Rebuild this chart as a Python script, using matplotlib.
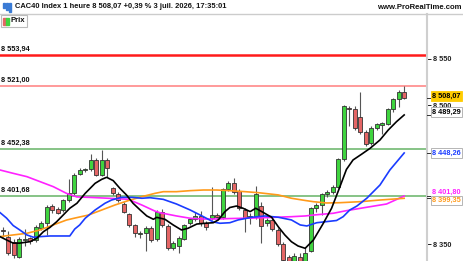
"""CAC40 1h candlestick snapshot (ProRealTime style) with 4 moving averages."""
import matplotlib
matplotlib.use("Agg")
import matplotlib.pyplot as plt
import numpy as np
from matplotlib.patches import Rectangle
from matplotlib.lines import Line2D
from matplotlib.ticker import FuncFormatter

plt.rcParams['font.family'] = ['Liberation Sans', 'DejaVu Sans']

# --- Data ---
opens = [8365, 8358, 8352.5, 8336.5, 8354, 8356.5, 8354.5, 8367, 8372.5, 8391,
         8388, 8387, 8397, 8405, 8426, 8430, 8431, 8441, 8424.5, 8441,
         8410, 8404, 8393, 8382.5, 8370.5, 8361, 8362, 8367, 8355, 8385,
         8369.5, 8346, 8348, 8355.5, 8373, 8377, 8380, 8373, 8378, 8381.5,
         8379, 8409, 8416, 8407.5, 8387, 8379, 8379, 8391, 8372.5, 8376,
         8365, 8350, 8336, 8331, 8336, 8330, 8343, 8388.5, 8392, 8403.5,
         8406, 8412, 8442, 8497, 8496, 8487, 8471, 8459, 8475, 8478,
         8480, 8495.5, 8506, 8514.5]
highs = [8368, 8364, 8355, 8358, 8366, 8358, 8370.5, 8375, 8392, 8393,
         8390, 8399, 8420, 8427, 8432, 8432, 8447, 8443, 8451.5, 8443,
         8412, 8406, 8395, 8384, 8372, 8364, 8369, 8369, 8387, 8388,
         8372, 8353, 8359, 8372, 8378, 8385, 8386, 8375, 8412, 8383,
         8411, 8418, 8421, 8409, 8389, 8383, 8413, 8395, 8378, 8378,
         8367, 8352, 8338, 8340, 8340, 8347, 8390, 8394, 8405, 8408,
         8414, 8443, 8500, 8499, 8499, 8514, 8473, 8477, 8481, 8482,
         8497, 8508, 8516, 8521]
lows = [8358, 8338, 8334.5, 8335, 8348, 8350, 8352, 8365, 8360, 8384,
        8382, 8385, 8395, 8403, 8424, 8428, 8429, 8423, 8423, 8422,
        8403, 8395, 8383, 8368, 8358, 8357, 8343, 8352, 8353, 8368,
        8344, 8344, 8340, 8354, 8371, 8375, 8370, 8365, 8376, 8377,
        8377, 8407, 8404, 8387, 8363, 8372, 8377, 8351, 8370, 8364,
        8348, 8330, 8322, 8328, 8328, 8328, 8341, 8385, 8381, 8401,
        8404, 8410, 8440, 8477, 8473, 8469, 8456, 8457, 8473, 8469,
        8478, 8492, 8498, 8506]
closes = [8364, 8340, 8338, 8355, 8355, 8353, 8368, 8373, 8390, 8387,
          8384, 8397.5, 8405, 8425, 8430, 8430.5, 8441, 8424.5, 8441, 8432,
          8405, 8397.5, 8385, 8370.5, 8361.5, 8361.5, 8367, 8354.5, 8385, 8371,
          8346, 8351, 8357, 8370.5, 8376.5, 8380, 8372.5, 8368, 8381.5, 8379,
          8409, 8416, 8406.5, 8389, 8378, 8380.5, 8404, 8369.5, 8376, 8366,
          8350, 8333, 8326, 8337, 8332, 8340, 8388.5, 8392, 8403.5, 8406.5,
          8412, 8441.5, 8499, 8495.5, 8475, 8471, 8458, 8475, 8479, 8480.5,
          8495.5, 8506, 8514.5, 8508.07]

# moving averages, sampled along the curves (candle index, price)
ma_black_x = [-0.5, 0.7, 1.9, 3.1, 5.0, 6.2, 7.4, 8.6, 9.8, 11.0, 12.2, 13.5, 15.0, 16.8,
              18.0, 18.9, 20.1, 21.3, 22.5, 23.7, 25.0, 26.2, 27.4, 28.0, 29.5, 31.0,
              32.5, 33.7, 35.3, 36.8, 38.3, 39.2, 40.4, 41.3, 42.5, 43.7, 45.0, 46.0,
              47.1, 48.9, 50.1, 51.3, 52.5, 53.7, 55.0, 56.5, 58.3, 59.8, 61.2, 62.5,
              63.7, 65.3, 66.8, 68.6, 70.1, 71.6, 73.0]
ma_black_y = [8358, 8354.4, 8351, 8351, 8352.6, 8356.2, 8363.3, 8368, 8374, 8381.3, 8388.6,
              8394, 8404.7, 8415.5, 8419.8, 8422, 8418.4, 8410.2, 8403, 8394, 8386.7, 8380.3,
              8376.7, 8378.8, 8376.7, 8370.6, 8365.2, 8367, 8371.6, 8372.4, 8373, 8376,
              8384.9, 8389.4, 8391, 8388.6, 8385, 8388.6, 8385, 8378.9, 8368.7, 8359.8,
              8352.5, 8347.9, 8345.4, 8354.4, 8372.4, 8388.6, 8410, 8430.5, 8440.7, 8447.1,
              8453.3, 8462.3, 8473, 8482, 8489.29]
ma_blue_x = [-0.5, 0.7, 1.9, 3.1, 4.4, 5.6, 6.8, 8.6, 10.4, 12.2, 13.1, 14.0, 15.0, 16.8,
             18.6, 19.8, 21.6, 23.5, 25.3, 26.8, 29.2, 31.6, 34.1, 36.5, 38.3, 39.5, 41.3,
             42.8, 45.3, 47.7, 50.1, 52.5, 54.1, 55.3, 57.1, 60.7, 61.9, 63.1, 64.4, 66.2,
             68.6, 70.4, 73.0]
ma_blue_y = [8384, 8378, 8370, 8365.2, 8359.8, 8357.3, 8358, 8358.7, 8358.7, 8358.7, 8366.2,
             8370.6, 8377.8, 8386.7, 8394, 8397.5, 8400.4, 8400.4, 8399.4, 8400, 8398.2,
             8393.2, 8386.7, 8379.5, 8373.8, 8372.4, 8373, 8376, 8378.9, 8380.3, 8378.9,
             8376, 8370.6, 8369.5, 8373, 8375.4, 8379.5, 8386.7, 8391, 8399.4, 8413.7,
             8429.9, 8448.26]
ma_orange_x = [-0.5, 1.9, 4.4, 6.8, 9.2, 11.6, 13.1, 15.6, 18.0, 20.4, 22.8, 25.3, 27.7,
               29.2, 31.6, 34.1, 36.5, 38.9, 41.3, 44.1, 46.5, 50.1, 52.5, 55.0, 56.5,
               58.9, 61.3, 65.0, 68.6, 73.0]
ma_orange_y = [8358, 8359.8, 8361.6, 8365.2, 8370.6, 8375.9, 8378, 8381.3, 8386.7, 8392.1,
               8396.8, 8401.1, 8404.7, 8406.5, 8406.5, 8407.6, 8408.3, 8408.3, 8407.6,
               8406.5, 8405.4, 8403, 8399.4, 8397, 8395.7, 8394.3, 8394.6, 8395.7, 8397.5,
               8399.35]
ma_magenta_x = [-0.5, 1.9, 4.4, 6.8, 9.2, 11.6, 13.5, 15.6, 19.2, 22.8, 25.3, 27.7, 28.6,
                31.6, 34.1, 36.5, 38.9, 41.3, 45.3, 47.7, 50.1, 52.5, 55.0, 56.5, 60.1,
                62.5, 66.2, 69.8, 73.0]
ma_magenta_y = [8429.9, 8426.3, 8422.7, 8417.3, 8411.9, 8404.7, 8400.8, 8400.4, 8399.4,
                8398.3, 8392.1, 8385.5, 8383.8, 8380.3, 8377.8, 8377, 8377, 8377.5, 8378,
                8378.5, 8379, 8379.5, 8380.3, 8381.3, 8383.2, 8386, 8389.7, 8393.2, 8401.8]

levels = [8553.94, 8521.00, 8452.38, 8401.68]
level_labels = ["8 553,94", "8 521,00", "8 452,38", "8 401,68"]
level_colors = ["#ff1a1a", "#ff7f7f", "#66b366", "#66b366"]
level_widths = [1.8, 1.1, 1.1, 1.1]

# right-axis ticks left visible (8 400 / 8 450 are covered by the MA tags)
axis_ticks = [8350, 8500, 8550]

title = "CAC40 Index 1 heure 8 508,07 +0,39 % 3 juil. 2026, 17:35:01"

W, H = 464, 261
fig = plt.figure(figsize=(W / 100, H / 100), dpi=100)
ax = fig.add_axes([0, 0, 427 / W, (H - 14) / H])
ax.set_xlim(-0.49, 77.15)
ax.set_ylim(8331.7, 8598.2)

# support / resistance lines
for lv, lab, col, lw in zip(levels, level_labels, level_colors, level_widths):
    ax.axhline(lv, color=col, lw=lw, zorder=2)
    ax.annotate(lab, xy=(0, lv), xycoords=ax.get_yaxis_transform(),
                xytext=(1, 2), textcoords="offset pixels", ha="left", va="bottom",
                fontsize=5.3, fontweight="bold", color="#111111")

# candles
o = np.array(opens); c = np.array(closes)
idx = np.arange(len(o))
up = c >= o
body_col = np.where(up, "#3fd43f", "#e46565")
ax.vlines(idx, lows, highs, color="#555555", lw=0.8, zorder=3)
ax.bar(idx, np.maximum(np.abs(c - o), 0.4), bottom=np.minimum(o, c), width=0.72,
       color=body_col, edgecolor="#333333", linewidth=0.6, zorder=4)

# moving averages
ax.plot(ma_magenta_x, ma_magenta_y, color="#ff22ff", lw=1.2, zorder=5)
ax.plot(ma_orange_x, ma_orange_y, color="#ff9a1a", lw=1.2, zorder=5)
ax.plot(ma_blue_x, ma_blue_y, color="#1a3cff", lw=1.2, zorder=5)
ax.plot(ma_black_x, ma_black_y, color="#000000", lw=1.2, zorder=6)

# right price axis
for s in ["top", "left", "bottom"]:
    ax.spines[s].set_visible(False)
ax.spines["right"].set_color("#cfcfcf")
ax.spines["right"].set_linewidth(1.5)
ax.set_xticks([])
ax.yaxis.tick_right()
ax.set_yticks(axis_ticks)
ax.yaxis.set_major_formatter(FuncFormatter(lambda v, p: f"{int(v):,}".replace(",", " ")))
ax.tick_params(axis="y", length=3, width=0.7, pad=1.5, labelsize=5.3, colors="#222222")
for t in ax.get_yticklabels():
    t.set_fontweight("bold")

tags = [  # price, text, text colour, face, edge, vertical shift px
    (8508.07, "8 508,07", "#000000", "#ffcc00", "#ffcc00", 1.5),
    (8489.29, "8 489,29", "#000000", "#ffffff", "#aaaaaa", 3),
    (8448.26, "8 448,26", "#1a3cff", "#ffffff", "#aaaaaa", 0),
    (8401.80, "8 401,80", "#ff22ff", "#ffffff", "#ffffff", 4),
    (8399.35, "8 399,35", "#ff9a1a", "#ffffff", "#aaaaaa", -2.5),
]
for price, txt, tc, fc, ec, dy in tags:
    ax.annotate(txt, xy=(1, price), xycoords=ax.get_yaxis_transform(),
                xytext=(5, dy), textcoords="offset pixels", ha="left", va="center",
                fontsize=5.3, fontweight="bold", color=tc, annotation_clip=False,
                bbox=dict(boxstyle="square,pad=0.15", fc=fc, ec=ec, lw=0.6), zorder=20)
    ax.plot([1.0, 1.0 + 3 / 427], [price, price], transform=ax.get_yaxis_transform(),
            clip_on=False, color="#333333", lw=0.7, zorder=19)

# header
fig.add_artist(Line2D([0, 1], [1 - 13.5 / H] * 2, transform=fig.transFigure,
                      color="#cccccc", lw=1))
fig.text(15 / W, 1 - 7 / H, title, ha="left", va="center", fontsize=5.4,
         fontweight="bold", color="#111111")
fig.text(462 / W, 1 - 7.5 / H, "www.ProRealTime.com", ha="right", va="center",
         fontsize=5.6, fontweight="bold", color="#111111")
for bx, bh in [(3, 5), (6, 7), (9, 9)]:
    fig.add_artist(Rectangle((bx / W, 1 - (3 + bh) / H), 1.6 / W, bh / H,
                             transform=fig.transFigure, color="#3a7bd5"))

# "Prix" legend box
fig.add_artist(Rectangle((1 / W, 1 - 27 / H), 26 / W, 12 / H, transform=fig.transFigure,
                         fc="white", ec="#bbbbbb", lw=0.8, zorder=30))
fig.add_artist(Rectangle((3 / W, 1 - 24.5 / H), 3 / W, 7 / H, transform=fig.transFigure,
                         color="#e46565", zorder=31))
fig.add_artist(Rectangle((6 / W, 1 - 24.5 / H), 3 / W, 7 / H, transform=fig.transFigure,
                         color="#3fd43f", zorder=31))
fig.text(11 / W, 1 - 21 / H, "Prix", ha="left", va="center", fontsize=5.6,
         fontweight="bold", color="#111111", zorder=32)

fig.savefig("out.png", dpi=100)
